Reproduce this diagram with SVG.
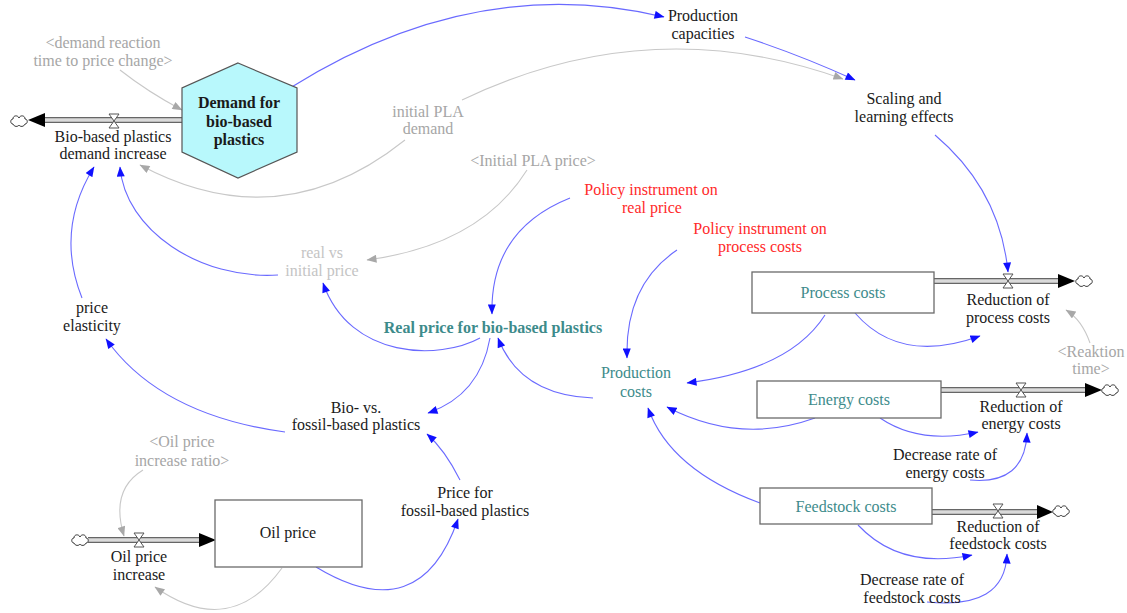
<svg xmlns="http://www.w3.org/2000/svg" width="1127" height="613" viewBox="0 0 1127 613">
<style>
text{font-family:"Liberation Serif","Times New Roman",serif;font-size:16px;text-anchor:middle;fill:#1a1a1a}
.g{fill:#a6a6a6}
.lg{fill:#c4c4c4}
.r{fill:#ff2a2a}
.t{fill:#3d8b8b}
.b{font-weight:bold}
.bl{fill:none;stroke:#6a6aff;stroke-width:1.1;marker-end:url(#ba)}
.gl{fill:none;stroke:#c8c8c8;stroke-width:1.1;marker-end:url(#ga)}
.po{fill:none;stroke:#666;stroke-width:6}
.pi{fill:none;stroke:#dadada;stroke-width:3.4}
.box{fill:#fff;stroke:#6a6a6a;stroke-width:1.3}
.valve{fill:#fff;stroke:#555;stroke-width:1}
.fa{fill:#000}
</style>
<defs>
<marker id="ba" viewBox="0 0 10 8" refX="9.5" refY="4" markerWidth="11" markerHeight="8" markerUnits="userSpaceOnUse" orient="auto"><path d="M0,0 L10,4 L0,8 Z" fill="#1010ff"/></marker>
<marker id="ga" viewBox="0 0 10 8" refX="9.5" refY="4" markerWidth="11" markerHeight="8" markerUnits="userSpaceOnUse" orient="auto"><path d="M0,0 L10,4 L0,8 Z" fill="#a8a8a8"/></marker>
<path id="cloud" d="M-6,3 C-9,3 -9,-2 -6,-2 C-6,-6 -1,-6 0,-3 C1,-6 6,-6 6,-2 C9,-2 9,3 6,3 C5,6 1,6 0,4 C-1,6 -5,6 -6,3 Z" fill="#fff" stroke="#333" stroke-width="1"/>
<path id="valve" d="M-5,-7 H5 L-5,7 H5 Z" class="valve"/>
</defs>

<g id="connectors">
<path class="bl" d="M290,88 Q475,-28 664,17"/>
<path class="bl" d="M745,37 Q800,55 855,80"/>
<path class="gl" d="M462,100 Q650,10 843,79"/>
<path class="bl" d="M935,135 Q1000,190 1008,272"/>
<path class="gl" d="M120,70 Q148,92 182,110"/>
<path class="gl" d="M405,140 Q280,240 140,165"/>
<path class="gl" d="M527,170 Q480,245 367,260"/>
<path class="bl" d="M278,275 C200,280 125,230 120,167"/>
<path class="bl" d="M82,298 Q55,230 94,167"/>
<path class="bl" d="M285,432 Q160,415 106,339"/>
<path class="bl" d="M480,338 C440,360 350,360 323,283"/>
<path class="bl" d="M490,338 Q480,395 428,413"/>
<path class="bl" d="M570,198 Q490,230 492,314"/>
<path class="bl" d="M677,250 Q625,285 627,358"/>
<path class="bl" d="M593,398 Q520,395 498,338"/>
<path class="bl" d="M825,315 Q790,370 687,383"/>
<path class="bl" d="M855,313 Q900,365 980,336"/>
<path class="gl" d="M1090,343 Q1082,320 1066,310"/>
<path class="bl" d="M815,418 Q740,445 667,407"/>
<path class="bl" d="M880,418 Q920,445 978,432"/>
<path class="bl" d="M970,480 Q1025,485 1027,433"/>
<path class="bl" d="M760,503 Q670,470 648,408"/>
<path class="bl" d="M858,525 Q900,570 972,555"/>
<path class="bl" d="M927,602 Q1005,610 1007,554"/>
<path class="gl" d="M143,470 Q110,490 124,536"/>
<path class="gl" d="M282,568 Q230,640 155,587"/>
<path class="bl" d="M316,567 Q420,630 458,519"/>
<path class="bl" d="M460,480 Q445,450 427,434"/>
</g>

<g id="flow-demand-increase">
<path class="po" d="M182,120 H44"/><path class="pi" d="M182,120 H44"/>
<path class="fa" d="M45,113 L28,120 L45,127 Z"/>
<use href="#cloud" x="19" y="121"/>
<use href="#valve" x="114" y="121"/>
<text x="113" y="142">Bio-based plastics</text>
<text x="113" y="159">demand increase</text>
</g>

<g id="demand">
<polygon points="238,63 297,88 297,152 238,178 182,152 182,88" fill="#b8f8fc" stroke="#555" stroke-width="1.2"/>
<text class="b" x="239" y="108">Demand for</text>
<text class="b" x="239" y="127">bio-based</text>
<text class="b" x="239" y="145">plastics</text>
</g>

<g id="demand-reaction-time"><text class="g" x="103" y="48">&lt;demand reaction</text><text class="g" x="103" y="66">time to price change&gt;</text></g>
<g id="production-capacities"><text x="703" y="21">Production</text><text x="703" y="39">capacities</text></g>
<g id="scaling"><text x="904" y="104">Scaling and</text><text x="904" y="122">learning effects</text></g>
<g id="initial-pla-demand"><text class="g" x="428" y="117">initial PLA</text><text class="g" x="428" y="134">demand</text></g>
<g id="initial-pla-price"><text class="g" x="533" y="166">&lt;Initial PLA price&gt;</text></g>
<g id="policy-real-price"><text class="r" x="651" y="195">Policy instrument on</text><text class="r" x="652" y="213">real price</text></g>
<g id="policy-process-costs"><text class="r" x="760" y="234">Policy instrument on</text><text class="r" x="760" y="252">process costs</text></g>
<g id="real-vs-initial"><text class="lg" x="322" y="258">real vs</text><text class="lg" x="322" y="276">initial price</text></g>
<g id="price-elasticity"><text x="92" y="313">price</text><text x="92" y="331">elasticity</text></g>
<g id="real-price"><text class="t b" x="493" y="333">Real price for bio-based plastics</text></g>
<g id="production-costs"><text class="t" x="636" y="378">Production</text><text class="t" x="636" y="397">costs</text></g>

<g id="process-costs">
<path class="po" d="M934,281 H1060"/><path class="pi" d="M934,281 H1060"/>
<rect class="box" x="752" y="272" width="182" height="41"/>
<text class="t" x="843" y="298">Process costs</text>
<path class="fa" d="M1058,274 L1075,281 L1058,288 Z"/>
<use href="#cloud" x="1084" y="281"/>
<use href="#valve" x="1008" y="281"/>
<text x="1008" y="305">Reduction of</text>
<text x="1008" y="323">process costs</text>
</g>
<g id="reaktion-time"><text class="g" x="1091" y="357">&lt;Reaktion</text><text class="g" x="1091" y="374">time&gt;</text></g>

<g id="energy-costs">
<path class="po" d="M941,390 H1087"/><path class="pi" d="M941,390 H1087"/>
<rect class="box" x="757" y="381" width="184" height="37"/>
<text class="t" x="849" y="405">Energy costs</text>
<path class="fa" d="M1085,383 L1102,390 L1085,397 Z"/>
<use href="#cloud" x="1110" y="390"/>
<use href="#valve" x="1021" y="390"/>
<text x="1021" y="412">Reduction of</text>
<text x="1021" y="429">energy costs</text>
</g>
<g id="decrease-energy"><text x="945" y="460">Decrease rate of</text><text x="945" y="478">energy costs</text></g>

<g id="feedstock-costs">
<path class="po" d="M932,512 H1040"/><path class="pi" d="M932,512 H1040"/>
<rect class="box" x="760" y="488" width="172" height="36"/>
<text class="t" x="846" y="512">Feedstock costs</text>
<path class="fa" d="M1037,505 L1053,512 L1037,519 Z"/>
<use href="#cloud" x="1061" y="511"/>
<use href="#valve" x="998" y="511"/>
<text x="998" y="532">Reduction of</text>
<text x="998" y="549">feedstock costs</text>
</g>
<g id="decrease-feedstock"><text x="912" y="585">Decrease rate of</text><text x="912" y="603">feedstock costs</text></g>

<g id="bio-vs-fossil"><text x="356" y="413">Bio- vs.</text><text x="356" y="430">fossil-based plastics</text></g>
<g id="oil-price-ratio"><text class="g" x="182" y="447">&lt;Oil price</text><text class="g" x="182" y="466">increase ratio&gt;</text></g>

<g id="oil-price">
<path class="po" d="M88,540 H202"/><path class="pi" d="M88,540 H202"/>
<path class="fa" d="M199,533 L216,540 L199,547 Z"/>
<use href="#cloud" x="80" y="540"/>
<use href="#valve" x="139" y="540"/>
<text x="139" y="562">Oil price</text>
<text x="139" y="580">increase</text>
<rect class="box" x="215" y="500" width="147" height="67"/>
<text x="288" y="538">Oil price</text>
</g>
<g id="price-fossil"><text x="465" y="498">Price for</text><text x="465" y="516">fossil-based plastics</text></g>
</svg>
